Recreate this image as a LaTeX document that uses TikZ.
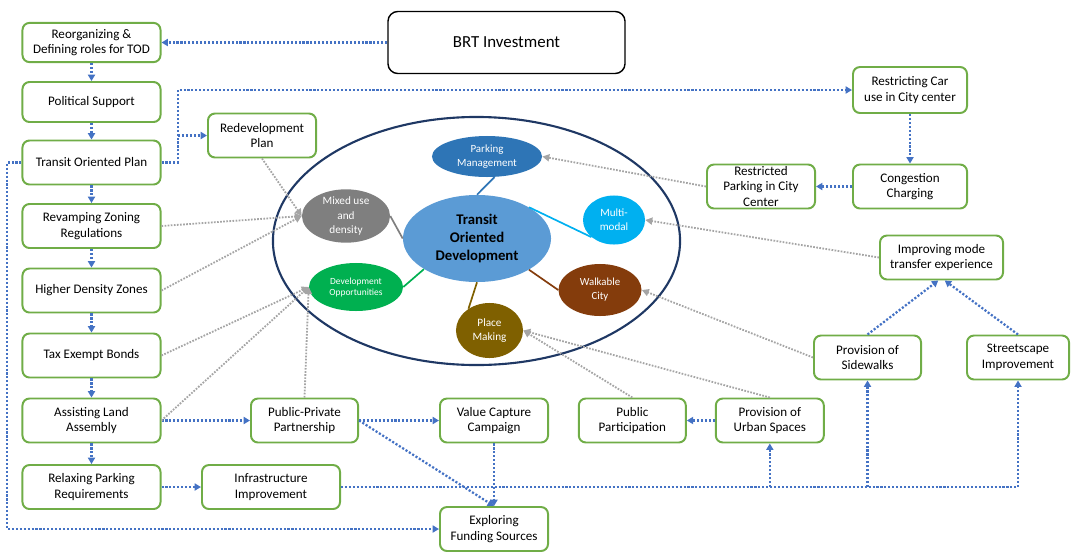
\documentclass[tikz,border=0pt]{standalone}
\usepackage{fontspec}
\setmainfont{Carlito}
\usetikzlibrary{arrows.meta, positioning, shapes.geometric}
\definecolor{boxGreen}{HTML}{70AD47}
\definecolor{flowBlue}{HTML}{4472C4}
\definecolor{linkGray}{HTML}{A5A5A5}
\definecolor{ringNavy}{HTML}{1F3864}
\definecolor{todBlue}{HTML}{5B9BD5}
\definecolor{parkBlue}{HTML}{2E75B6}
\definecolor{mixGray}{HTML}{7F7F7F}
\definecolor{modalCyan}{HTML}{00B0F0}
\definecolor{devGreen}{HTML}{00B050}
\definecolor{walkBrown}{HTML}{843C0C}
\definecolor{placeOlive}{HTML}{7F6000}

\begin{document}
\begin{tikzpicture}[
    x=0.025cm, y=-0.025cm,
    task/.style={draw=boxGreen, line width=1.4pt, rounded corners=5pt,
                 fill=white, align=center, inner sep=1pt,
                 font=\fontsize{9.3}{11.2}\selectfont, minimum height=1.1cm},
    col/.style={task, minimum width=3.45cm},
    bub/.style={ellipse, inner sep=0pt, text=white, align=center},
    spoke/.style={line width=1.2pt},
    flow/.style={-{Triangle[length=4.5pt, width=5pt]}, flowBlue,
                 line width=1.6pt, dash pattern=on 1.5pt off 1.3pt},
    link/.style={-{Triangle[length=5pt, width=5pt]}, linkGray,
                 line width=1.3pt, dash pattern=on 1.2pt off 1pt},
]
\useasboundingbox (0,0) rectangle (1071,553);

% ── Left column ──
\node[col, minimum height=0.98cm] at (91.5,42.5)
    (reorg) {Reorganizing \&\\Defining roles for TOD};
\node[col, minimum height=1cm] at (91.5,102)
    (political) {Political Support};
\node[col] at (91.5,162.5)
    (plan) {Transit Oriented Plan};
\node[col] at (91.5,226)
    (revamp) {Revamping Zoning\\Regulations};
\node[col] at (91.5,290.5)
    (higher) {Higher Density Zones};
\node[col] at (91.5,355.5)
    (tax) {Tax Exempt Bonds};
\node[col] at (91.5,420.5)
    (assist) {Assisting Land\\Assembly};
\node[col] at (91.5,487)
    (relax) {Relaxing Parking\\Requirements};

% ── Top ──
\node[draw, line width=1pt, rounded corners=7pt, minimum width=5.925cm,
      minimum height=1.55cm, font=\fontsize{12}{14}\selectfont]
    at (506.5,42.5) (brt) {BRT Investment};
\node[task, minimum width=2.7cm] at (262,135.5)
    (redev) {Redevelopment\\Plan};

% ── Transit Oriented Development ──
\node[draw=ringNavy, line width=1.5pt, ellipse, minimum width=10.175cm,
      minimum height=6.2cm] at (476.5,241) (ring) {};
\node[bub, fill=todBlue, text=black, minimum width=3.7cm, minimum height=2.175cm,
      font=\fontsize{10.5}{13}\selectfont\bfseries] at (477,238.5)
    (tod) {Transit\\Oriented\\Development};
\node[bub, fill=parkBlue, minimum width=2.75cm, minimum height=1.025cm,
      font=\fontsize{7.8}{9.5}\selectfont] at (487,156.5)
    (pm) {Parking\\Management};
\node[bub, fill=mixGray, minimum width=2.2cm, minimum height=1.2cm,
      font=\fontsize{8}{10}\selectfont] at (346,216)
    (mix) {Mixed use\\and\\density};
\node[bub, fill=modalCyan, minimum width=1.55cm, minimum height=1.225cm,
      font=\fontsize{7.9}{10}\selectfont] at (614,220)
    (multi) {Multi-\\modal};
\node[bub, fill=devGreen, minimum width=2.35cm, minimum height=1.2cm,
      font=\fontsize{6.7}{7.8}\selectfont] at (356,287)
    (dev) {Development\\Opportunities};
\node[bub, fill=walkBrown, minimum width=2.075cm, minimum height=1.3cm,
      font=\fontsize{7.7}{10}\selectfont] at (600,290)
    (walk) {Walkable\\City};
\node[bub, fill=placeOlive, minimum width=1.675cm, minimum height=1.375cm,
      font=\fontsize{8}{10}\selectfont] at (489.5,330.5)
    (place) {Place\\Making};

\draw[spoke, parkBlue] (tod.north) -- (pm.-70);
\draw[spoke, mixGray] (tod.west) -- (mix.east);
\draw[spoke, modalCyan] (tod.31) -- (multi.217);
\draw[spoke, devGreen] (tod.210) -- (dev.east);
\draw[spoke, walkBrown] (tod.-31) -- (walk.west);
\draw[spoke, placeOlive] (tod.south) -- (place.134);

% ── Right side ──
\node[task, minimum width=2.85cm, minimum height=1.15cm] at (910,90)
    (car) {Restricting Car\\use in City center};
\node[task, minimum width=2.85cm] at (910,186.5)
    (charge) {Congestion\\Charging};
\node[task, minimum width=2.7cm] at (761,186.5)
    (restpark) {Restricted\\Parking in City\\Center};
\node[task, minimum width=3.075cm] at (941.5,257.5)
    (mode) {Improving mode\\transfer experience};
\node[task, minimum width=2.675cm] at (867.5,357.5)
    (sidewalk) {Provision of\\Sidewalks};
\node[task, minimum width=2.55cm] at (1018,357.5)
    (street) {Streetscape\\Improvement};

% ── Bottom ──
\node[task, minimum width=2.675cm] at (304.5,420.5)
    (ppp) {Public-Private\\Partnership};
\node[col] at (271,487)
    (infra) {Infrastructure\\Improvement};
\node[task, minimum width=2.7cm] at (494,420.5)
    (value) {Value Capture\\Campaign};
\node[task, minimum width=2.675cm, right=0.72cm of value]
    (public) {Public\\Participation};
\node[task, minimum width=2.7cm, right=0.7cm of public]
    (urban) {Provision of\\Urban Spaces};
\node[task, minimum width=2.7cm] at (494,529)
    (funding) {Exploring\\Funding Sources};

% ── Blue arrows ──
\coordinate (tap) at (178,162.5);
\coordinate (rim) at (7,162.5);
\draw[flow] (brt) -- (reorg);
\foreach \a/\b in {reorg/political, political/plan, plan/revamp,
                   revamp/higher, higher/tax, tax/assist, assist/relax}
    \draw[flow] (\a) -- (\b);
\draw[flow] (plan.east) -- (tap) |- (car.west);
\draw[flow] (tap |- redev.west) -- (redev.west);
\draw[flow] (plan.west) -- (rim) |- (funding.west);
\draw[flow] (car) -- (charge);
\draw[flow] (charge) -- (restpark);
\draw[flow] (sidewalk.north) -- (mode.262);
\draw[flow] (street.north) -- (mode.278);
\draw[flow] (assist) -- (ppp);
\draw[flow] (relax) -- (infra);
\draw[flow] (ppp) -- (value);
\draw[flow] (ppp.east) -- (funding.north);
\draw[flow] (value) -- (funding);
\draw[flow] (infra.east) -| (street.south);
\draw[flow] (urban.south |- infra.east) -- (urban.south);
\draw[flow] (sidewalk.south |- infra.east) -- (sidewalk.south);
\draw[flow] (urban) -- (public);

% ── Gray links ──
\draw[link] (redev.south) -- (mix.west);
\draw[link] (revamp.east) -- (mix.west);
\draw[link] (higher.east) -- (mix.west);
\draw[link] (tax.east) -- (dev.west);
\draw[link] (assist.east) -- (dev.west);
\draw[link] (ppp.north) -- (dev.west);
\draw[link] (restpark.west) -- (pm.east);
\draw[link] (mode.west) -- (multi.east);
\draw[link] (sidewalk.west) -- (walk.east);
\draw[link] (urban.north) -- (place.east);
\draw[link] (public.north) -- (place.east);
\end{tikzpicture}
\end{document}
